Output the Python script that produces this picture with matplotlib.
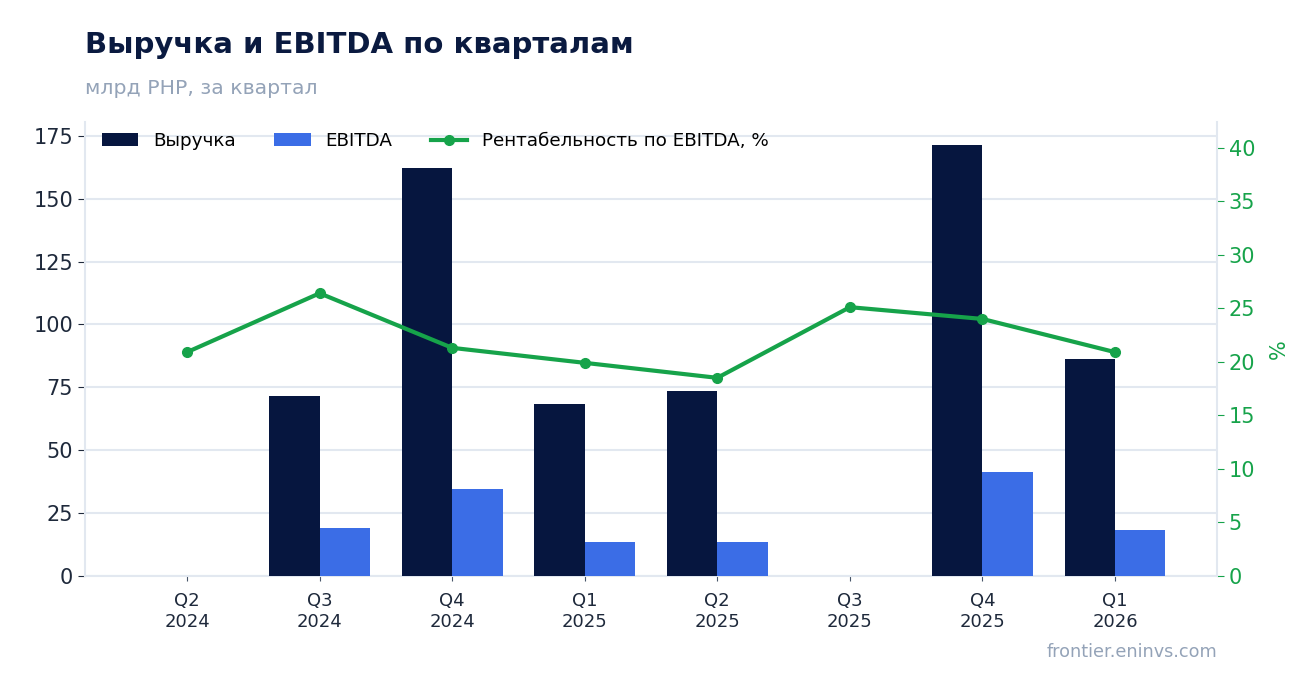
import numpy as np
import matplotlib.pyplot as plt

# quarterly data, bn PHP (NaN = no report)
quarters = ['Q2\n2024', 'Q3\n2024', 'Q4\n2024', 'Q1\n2025',
            'Q2\n2025', 'Q3\n2025', 'Q4\n2025', 'Q1\n2026']
revenue = [np.nan, 71.6, 162.3, 68.4, 73.6, np.nan, 171.4, 86.3]
ebitda = [np.nan, 19.1, 34.6, 13.5, 13.5, np.nan, 41.4, 18.3]
margin = [20.9, 26.4, 21.3, 19.9, 18.5, 25.1, 24.0, 20.9]

navy = '#06163f'
blue = '#3b6de6'
green = '#16a34a'
grid_c = '#e2e8f0'
gray = '#94a3b8'
text_c = '#1e293b'

fig = plt.figure(figsize=(13.16, 6.93), dpi=100)
ax = fig.add_axes([0.0646, 0.169, 0.8602, 0.655])
x = np.arange(len(quarters))
w = 0.38

ax.bar(x - w / 2, revenue, w, color=navy, label='Выручка', zorder=3)
ax.bar(x + w / 2, ebitda, w, color=blue, label='EBITDA', zorder=3)
ax.set_xlim(-0.77, len(quarters) - 1 + 0.77)
ax.set_ylim(0, 180.5)
ax.set_yticks([0, 25, 50, 75, 100, 125, 150, 175])
ax.set_xticks(x)
ax.set_xticklabels(quarters, fontsize=13, color=text_c)
ax.tick_params(axis='y', labelsize=15, colors=text_c, length=5)
ax.tick_params(axis='x', colors='#475569', labelcolor=text_c, pad=8)
ax.grid(axis='y', color=grid_c, lw=1.5, zorder=0)
ax.set_axisbelow(True)
for s in ['top', 'right']:
    ax.spines[s].set_visible(False)
for s in ['left', 'bottom']:
    ax.spines[s].set_color(grid_c)
    ax.spines[s].set_linewidth(1.5)

# secondary axis for margin
ax1 = ax.twinx()
ax1.plot(x, margin, color=green, lw=3, marker='o', ms=7,
         label='Рентабельность по EBITDA, %', zorder=4)
ax1.set_ylim(0, 42.4)
ax1.set_yticks(range(0, 45, 5))
ax1.tick_params(axis='y', labelsize=15, colors=green, length=5)
ax1.set_ylabel('%', color=green, fontsize=15, labelpad=10)
for s in ['top', 'left', 'bottom']:
    ax1.spines[s].set_visible(False)
ax1.spines['right'].set_color(grid_c)
ax1.spines['right'].set_linewidth(1.5)

h1, l1 = ax.get_legend_handles_labels()
h2, l2 = ax1.get_legend_handles_labels()
ax1.legend(h1 + h2, l1 + l2, loc='upper left', ncol=3, frameon=False,
           fontsize=13.2, bbox_to_anchor=(0.0, 1.014), handlelength=2.0,
           columnspacing=2.1)

fig.text(0.0646, 0.935, 'Выручка и EBITDA по кварталам', fontsize=21,
         fontweight='bold', color='#0a1a40', va='center')
fig.text(0.0646, 0.873, 'млрд РНР, за квартал', fontsize=14.7, color=gray,
         va='center')
fig.text(0.9248, 0.059, 'frontier.eninvs.com', fontsize=12.7, color=gray,
         ha='right', va='center')

fig.savefig('out.png', dpi=100)
